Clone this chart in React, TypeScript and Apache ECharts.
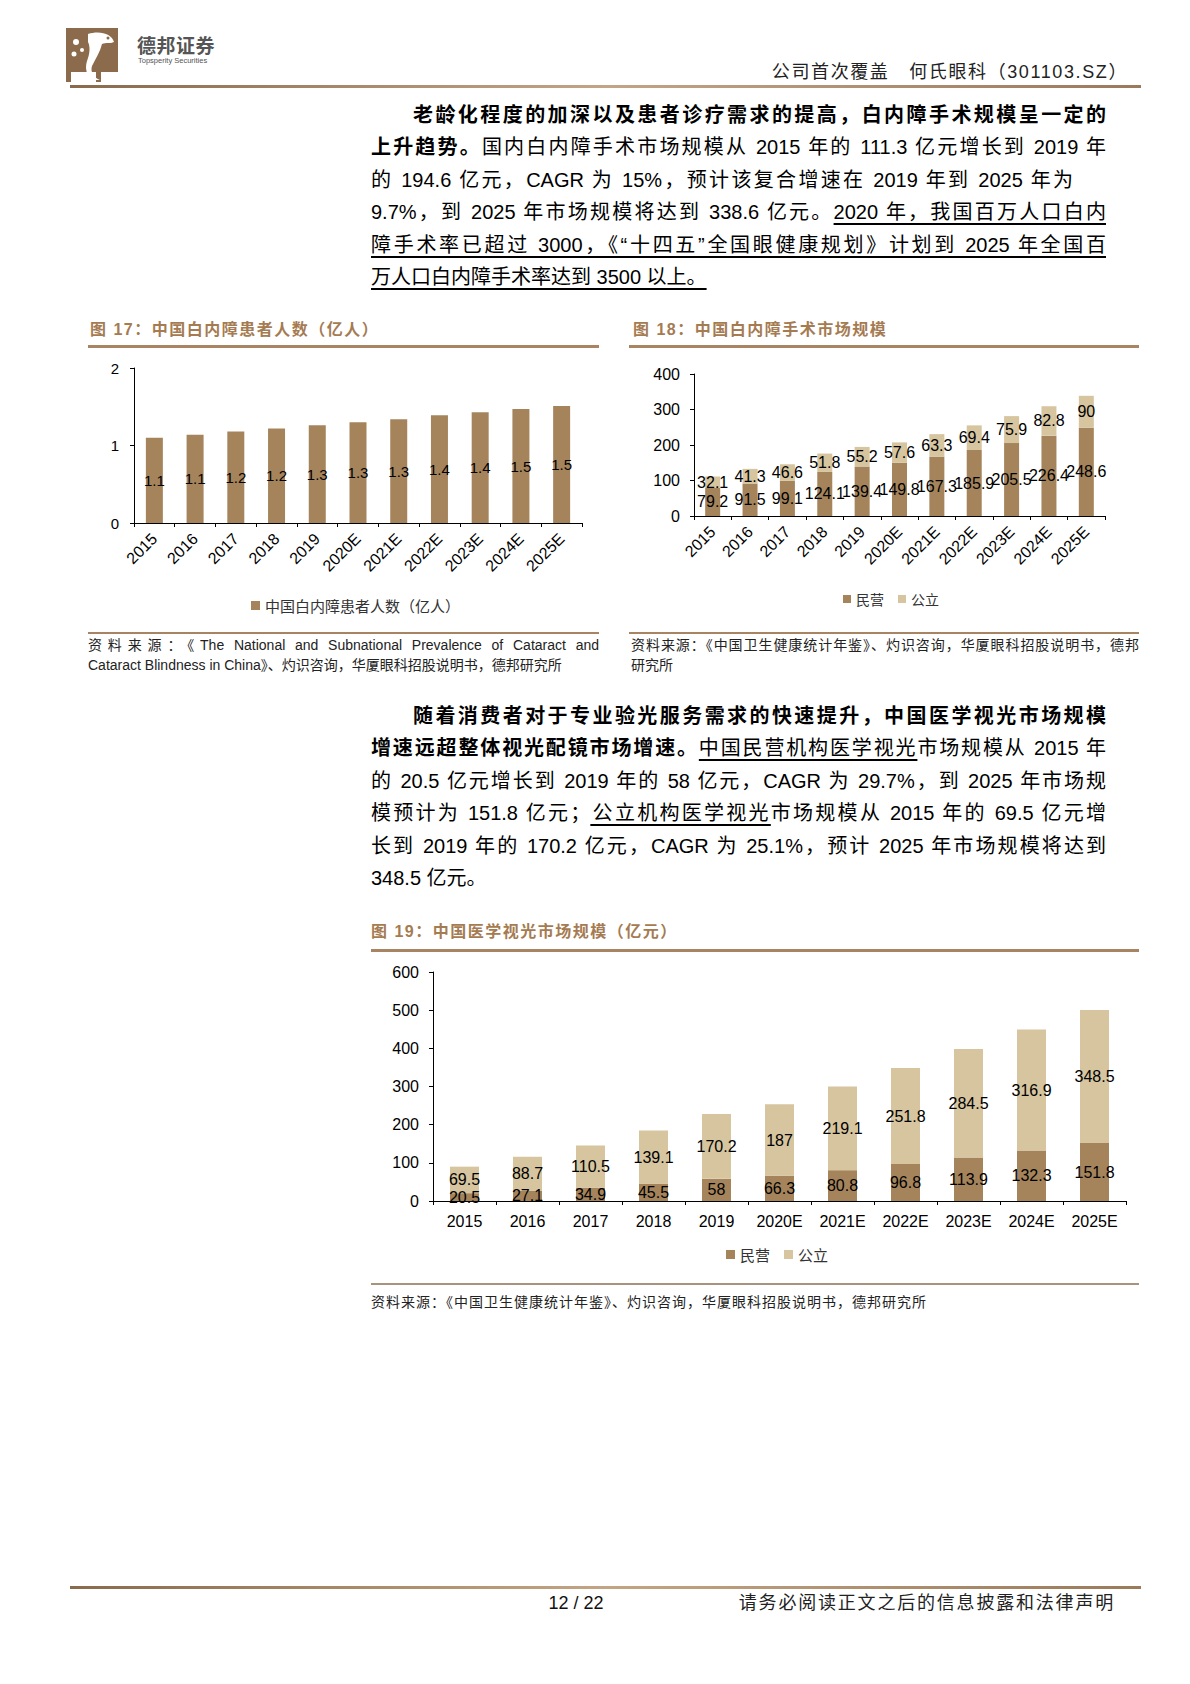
import React, { useEffect, useRef } from "react";
import * as echarts from "echarts";

// ---------- data ----------
const years = ["2015", "2016", "2017", "2018", "2019", "2020E", "2021E", "2022E", "2023E", "2024E", "2025E"];
const cataractPatients = [1.1, 1.14, 1.18, 1.22, 1.26, 1.3, 1.34, 1.39, 1.43, 1.47, 1.51];
const surgeryPrivate = [79.2, 91.5, 99.1, 124.1, 139.4, 149.8, 167.3, 185.9, 205.5, 226.4, 248.6];
const surgeryPublic = [32.1, 41.3, 46.6, 51.8, 55.2, 57.6, 63.3, 69.4, 75.9, 82.8, 90];
const opticsPrivate = [20.5, 27.1, 34.9, 45.5, 58, 66.3, 80.8, 96.8, 113.9, 132.3, 151.8];
const opticsPublic = [69.5, 88.7, 110.5, 139.1, 170.2, 187, 219.1, 251.8, 284.5, 316.9, 348.5];
const patientAxis = { min: 0, max: 2, interval: 1 };
const surgeryAxis = { min: 0, max: 400, interval: 100 };
const opticsAxis = { min: 0, max: 600, interval: 100 };
const seriesNames = { patients: "中国白内障患者人数（亿人）", priv: "民营", pub: "公立" };

// ---------- style ----------
const DARK = "#a5845c";
const LIGHT = "#d6c59f";
const TITLE = "#a57b52";
const RULE = "#a88462";
const NUM_FONT = "'Liberation Sans', Arial, sans-serif";
const CJK_FONT = "'Noto Sans CJK SC', sans-serif";
const BODY_FONT = "'Liberation Sans', 'Noto Sans CJK SC', sans-serif";
const RULE_GRAD = "linear-gradient(to right, #8a6a4c, #c3a585 50%, #9a7a5a)";

type Seg = { t: string; b?: boolean; u?: boolean };
type Line = { segs: Seg[]; w?: number };

const para1: Line[] = [
  { segs: [{ t: "老龄化程度的加深以及患者诊疗需求的提高，白内障手术规模呈一定的", b: true }] },
  { segs: [{ t: "上升趋势。", b: true }, { t: "国内白内障手术市场规模从 2015 年的 111.3 亿元增长到 2019 年" }] },
  { segs: [{ t: "的 194.6 亿元，CAGR 为 15%，预计该复合增速在 2019 年到 2025 年为" }], w: 702 },
  { segs: [{ t: "9.7%，到 2025 年市场规模将达到 338.6 亿元。" }, { t: "2020 年，我国百万人口白内", u: true }] },
  { segs: [{ t: "障手术率已超过 3000，《“十四五”全国眼健康规划》计划到 2025 年全国百", u: true }] },
  { segs: [{ t: "万人口白内障手术率达到 3500 以上。", u: true }] },
];

const para2: Line[] = [
  { segs: [{ t: "随着消费者对于专业验光服务需求的快速提升，中国医学视光市场规模", b: true }] },
  { segs: [{ t: "增速远超整体视光配镜市场增速。", b: true }, { t: "中国民营机构医学视光", u: true }, { t: "市场规模从 2015 年" }] },
  { segs: [{ t: "的 20.5 亿元增长到 2019 年的 58 亿元，CAGR 为 29.7%，到 2025 年市场规" }] },
  { segs: [{ t: "模预计为 151.8 亿元；" }, { t: "公立机构医学视光", u: true }, { t: "市场规模从 2015 年的 69.5 亿元增" }] },
  { segs: [{ t: "长到 2019 年的 170.2 亿元，CAGR 为 25.1%，预计 2025 年市场规模将达到" }] },
  { segs: [{ t: "348.5 亿元。" }] },
];

function Para({ lines, left, top, width, lh, fs }: { lines: Line[]; left: number; top: number; width: number; lh: number; fs: number }) {
  return (
    <>
      {lines.map((ln, i) => {
        const last = i === lines.length - 1;
        return (
          <div
            key={i}
            style={{
              position: "absolute",
              left,
              top: top + i * lh,
              width: ln.w ?? width,
              height: lh,
              lineHeight: lh + "px",
              fontSize: fs,
              textAlign: last ? "left" : "justify",
              textAlignLast: last ? "left" : "justify",
              textIndent: i === 0 ? 2 * fs + 2 : 0,
              color: "#000",
            } as React.CSSProperties}
          >
            {ln.segs.map((s, j) => (
              <span
                key={j}
                style={{
                  fontWeight: s.b ? 700 : 400,
                  textDecoration: s.u ? "underline" : "none",
                  textDecorationThickness: "1.5px",
                  textUnderlineOffset: "4px",
                }}
              >
                {s.t}
              </span>
            ))}
          </div>
        );
      })}
    </>
  );
}

function xAx(gridIndex: number, rotate: number, fontSize: number, margin: number) {
  return {
    type: "category",
    gridIndex,
    data: years,
    boundaryGap: true,
    axisLine: { show: true, lineStyle: { color: "#000", width: 1 } },
    axisTick: { show: true, length: 4, lineStyle: { color: "#000" } },
    axisLabel: { interval: 0, rotate, fontSize, color: "#000", fontFamily: NUM_FONT, margin },
  };
}

function yAx(gridIndex: number, cfg: { min: number; max: number; interval: number }, fontSize: number, margin: number) {
  return {
    type: "value",
    gridIndex,
    min: cfg.min,
    max: cfg.max,
    interval: cfg.interval,
    axisLine: { show: true, lineStyle: { color: "#000", width: 1 } },
    axisTick: { show: true, length: 4, lineStyle: { color: "#000" } },
    splitLine: { show: false },
    axisLabel: { fontSize, color: "#000", fontFamily: NUM_FONT, margin },
  };
}

function lbl(fontSize: number, fmt?: (p: any) => string) {
  return {
    show: true,
    position: "inside",
    color: "#000",
    fontSize,
    fontFamily: NUM_FONT,
    ...(fmt ? { formatter: fmt } : {}),
  };
}

function Logo() {
  return (
    <svg style={{ position: "absolute", left: 66, top: 28 }} width={58} height={54} viewBox="0 0 58 54">
      <rect x="0" y="0" width="52" height="44" fill="#8c6b4d" />
      <rect x="30" y="44" width="5" height="10" fill="#8c6b4d" />
      <rect x="0" y="44" width="5" height="10" fill="#8c6b4d" />
      <path d="M22 6 C34 2 46 6 48 14 C44 16 40 14 36 16 C34 24 30 30 26 38 C24 44 28 50 34 52 L28 52 C20 48 18 40 22 30 C24 24 24 18 22 14 Z" fill="#fff" />
      <circle cx="10" cy="14" r="3" fill="#fff" />
      <circle cx="8" cy="26" r="2.5" fill="#fff" />
      <circle cx="16" cy="22" r="2" fill="#fff" />
      <circle cx="42" cy="10" r="1.5" fill="#8c6b4d" />
    </svg>
  );
}

export default function App() {
  const ref = useRef<HTMLDivElement>(null);

  useEffect(() => {
    if (!ref.current) return;
    const chart = echarts.init(ref.current, undefined, { renderer: "svg" });
    const option: any = {
      animation: false,
      textStyle: { fontFamily: NUM_FONT },
      grid: [
        { left: 134, top: 368, width: 448, height: 155, outerBoundsMode: "none" },
        { left: 694, top: 374, width: 411, height: 142, outerBoundsMode: "none" },
        { left: 433, top: 972, width: 693, height: 229, outerBoundsMode: "none" },
      ],
      xAxis: [xAx(0, 45, 16, 13), xAx(1, 45, 16, 13), xAx(2, 0, 16, 12)],
      yAxis: [yAx(0, patientAxis, 15, 15), yAx(1, surgeryAxis, 16, 14), yAx(2, opticsAxis, 16, 14)],
      legend: [
        {
          data: [seriesNames.patients],
          left: 246,
          top: 593,
          icon: "rect",
          itemWidth: 9,
          itemHeight: 9,
          itemGap: 14,
          textStyle: { fontFamily: CJK_FONT, fontSize: 15, color: "#333" },
        },
        {
          data: [seriesNames.priv, seriesNames.pub],
          left: 838,
          top: 587,
          icon: "rect",
          itemWidth: 8,
          itemHeight: 8,
          itemGap: 14,
          textStyle: { fontFamily: CJK_FONT, fontSize: 14, color: "#333" },
        },
        {
          data: [seriesNames.priv, seriesNames.pub],
          left: 721,
          top: 1242,
          icon: "rect",
          itemWidth: 9,
          itemHeight: 9,
          itemGap: 14,
          textStyle: { fontFamily: CJK_FONT, fontSize: 15, color: "#333" },
        },
      ],
      series: [
        {
          name: seriesNames.patients,
          type: "bar",
          xAxisIndex: 0,
          yAxisIndex: 0,
          data: cataractPatients,
          barWidth: 17,
          itemStyle: { color: DARK },
          label: lbl(15, (p: any) => Number(p.value).toFixed(1)),
        },
        {
          name: seriesNames.priv,
          type: "bar",
          stack: "surgery",
          xAxisIndex: 1,
          yAxisIndex: 1,
          data: surgeryPrivate,
          barWidth: 15,
          itemStyle: { color: DARK },
          label: lbl(16),
        },
        {
          name: seriesNames.pub,
          type: "bar",
          stack: "surgery",
          xAxisIndex: 1,
          yAxisIndex: 1,
          data: surgeryPublic,
          barWidth: 15,
          itemStyle: { color: LIGHT },
          label: lbl(16),
        },
        {
          name: seriesNames.priv,
          type: "bar",
          stack: "optics",
          xAxisIndex: 2,
          yAxisIndex: 2,
          data: opticsPrivate,
          barWidth: 29,
          itemStyle: { color: DARK },
          label: lbl(16),
        },
        {
          name: seriesNames.pub,
          type: "bar",
          stack: "optics",
          xAxisIndex: 2,
          yAxisIndex: 2,
          data: opticsPublic,
          barWidth: 29,
          itemStyle: { color: LIGHT },
          label: lbl(16),
        },
      ],
    };
    chart.setOption(option);
    return () => chart.dispose();
  }, []);

  const abs = (s: React.CSSProperties): React.CSSProperties => ({ position: "absolute", ...s });
  const titleStyle: React.CSSProperties = {
    fontSize: 16,
    fontWeight: 700,
    color: TITLE,
    letterSpacing: 1.5,
    lineHeight: "20px",
    whiteSpace: "nowrap",
    fontFamily: BODY_FONT,
  };
  const srcStyle: React.CSSProperties = {
    fontSize: 14,
    lineHeight: "20px",
    color: "#222",
    fontFamily: BODY_FONT,
  };

  return (
    <div style={{ position: "absolute", left: 0, top: 0, width: 1190, height: 1684, background: "#fff", fontFamily: BODY_FONT, overflow: "hidden" }}>
      <div ref={ref} style={{ position: "absolute", left: 0, top: 0, width: 1190, height: 1684 }} />

      {/* header */}
      <Logo />
      <div style={abs({ left: 137, top: 34, fontSize: 19, fontWeight: 700, color: "#555", letterSpacing: 0.5, lineHeight: "22px", fontFamily: CJK_FONT })}>德邦证券</div>
      <div style={abs({ left: 138, top: 56, fontSize: 7.5, color: "#555", lineHeight: "9px", whiteSpace: "nowrap" })}>Topsperity Securities</div>
      <div style={abs({ right: 62, top: 60, fontSize: 18, color: "#222", lineHeight: "24px", whiteSpace: "nowrap", letterSpacing: 1.6 })}>
        公司首次覆盖&nbsp;&nbsp;&nbsp;何氏眼科（301103.SZ）
      </div>
      <div style={abs({ left: 70, top: 85, width: 1071, height: 3, background: RULE_GRAD })} />

      {/* paragraph 1 */}
      <Para lines={para1} left={371} top={99} width={735} lh={32.4} fs={20} />

      {/* chart 17 / 18 headers */}
      <div style={abs({ left: 90, top: 320, ...titleStyle })}>图 17：中国白内障患者人数（亿人）</div>
      <div style={abs({ left: 88, top: 345, width: 511, height: 2.5, background: RULE })} />
      <div style={abs({ left: 633, top: 320, ...titleStyle })}>图 18：中国白内障手术市场规模</div>
      <div style={abs({ left: 629, top: 345, width: 510, height: 2.5, background: RULE })} />

      {/* sources 17 / 18 */}
      <div style={abs({ left: 88, top: 632, width: 511, height: 2, background: RULE })} />
      <div style={abs({ left: 88, top: 635, width: 511, ...srcStyle, textAlign: "justify", textAlignLast: "justify" } as React.CSSProperties)}>
        资料来源：《The National and Subnational Prevalence of Cataract and
      </div>
      <div style={abs({ left: 88, top: 655, width: 511, ...srcStyle, whiteSpace: "nowrap" })}>
        Cataract Blindness in China》、灼识咨询，华厦眼科招股说明书，德邦研究所
      </div>
      <div style={abs({ left: 629, top: 632, width: 510, height: 2, background: RULE })} />
      <div style={abs({ left: 631, top: 635, width: 508, ...srcStyle, textAlign: "justify", textAlignLast: "justify" } as React.CSSProperties)}>
        资料来源：《中国卫生健康统计年鉴》、灼识咨询，华厦眼科招股说明书，德邦
      </div>
      <div style={abs({ left: 631, top: 655, ...srcStyle })}>研究所</div>

      {/* paragraph 2 */}
      <Para lines={para2} left={371} top={700} width={735} lh={32.4} fs={20} />

      {/* chart 19 header */}
      <div style={abs({ left: 371, top: 922, ...titleStyle })}>图 19：中国医学视光市场规模（亿元）</div>
      <div style={abs({ left: 371, top: 949, width: 768, height: 2.5, background: RULE })} />

      {/* source 19 */}
      <div style={abs({ left: 371, top: 1283, width: 768, height: 1.5, background: "#a8947c" })} />
      <div style={abs({ left: 371, top: 1292, ...srcStyle, letterSpacing: 1, whiteSpace: "nowrap" })}>
        资料来源：《中国卫生健康统计年鉴》、灼识咨询，华厦眼科招股说明书，德邦研究所
      </div>

      {/* footer */}
      <div style={abs({ left: 70, top: 1586, width: 1071, height: 3, background: RULE_GRAD })} />
      <div style={abs({ left: 526, top: 1592, width: 100, textAlign: "center", fontSize: 18, lineHeight: "22px", color: "#111" })}>12 / 22</div>
      <div style={abs({ right: 75, top: 1592, fontSize: 18, lineHeight: "22px", color: "#222", letterSpacing: 1.8, whiteSpace: "nowrap" })}>
        请务必阅读正文之后的信息披露和法律声明
      </div>
    </div>
  );
}
